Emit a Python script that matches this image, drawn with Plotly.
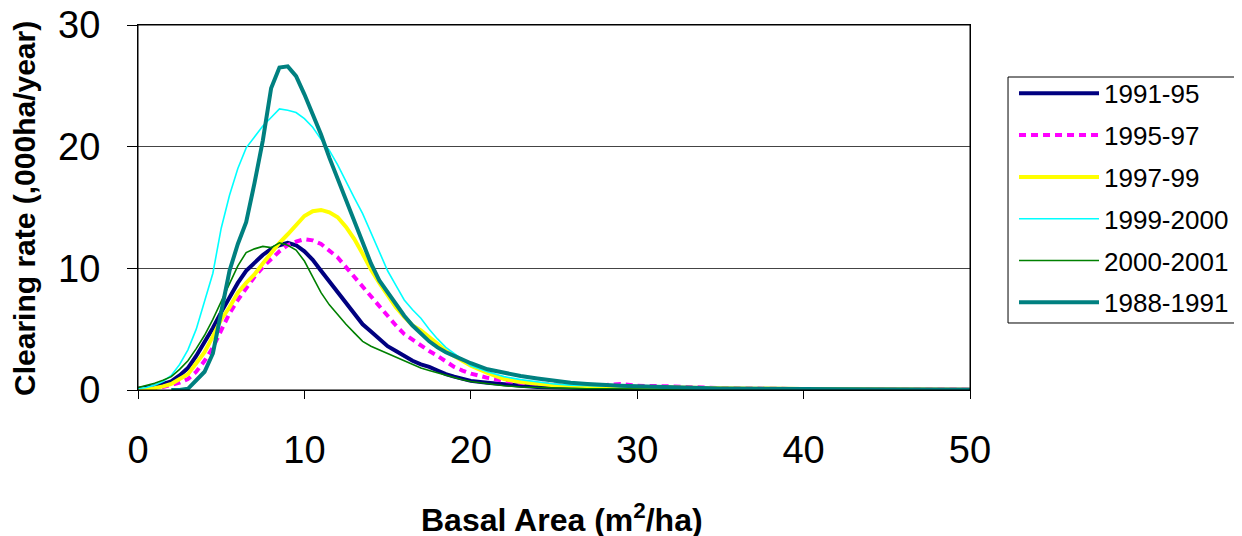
import plotly.graph_objects as go

basal_area = [0, 0.5, 1, 1.5, 2, 2.5, 3, 3.5, 4, 4.5, 5, 5.5, 6, 6.5, 7, 7.5, 8, 8.5, 9, 9.5,
              10, 10.5, 11, 11.5, 12, 12.5, 13, 13.5, 14, 14.5, 15, 15.5, 16, 16.5, 17, 17.5,
              18, 18.5, 19, 19.5, 20, 21, 22, 23, 24, 25, 26, 27, 28, 29, 30, 32, 35, 40, 45, 50]

s1991_95 = [0.1, 0.2, 0.3, 0.5, 0.7, 1.2, 1.8, 2.8, 3.9, 5.1, 6.4, 7.6, 8.8, 9.8, 10.5, 11.1,
            11.6, 11.9, 12.1, 11.9, 11.4, 10.7, 9.8, 8.9, 8.0, 7.2, 6.3, 5.4, 4.8, 4.2, 3.6, 3.2,
            2.8, 2.4, 2.1, 1.9, 1.6, 1.3, 1.1, 0.9, 0.75, 0.6, 0.45, 0.35, 0.25, 0.2, 0.18, 0.16,
            0.15, 0.13, 0.12, 0.1, 0.08, 0.05, 0.03, 0.02]

s1995_97 = [0.0, 0.05, 0.15, 0.25, 0.4, 0.6, 0.9, 1.5, 2.4, 3.5, 4.9, 6.3, 7.4, 8.4, 9.3, 10.1,
            10.8, 11.4, 11.9, 12.2, 12.4, 12.3, 12.0, 11.5, 10.9, 10.1, 9.3, 8.5, 7.6, 6.8, 6.0,
            5.3, 4.6, 4.1, 3.6, 3.2, 2.8, 2.3, 1.9, 1.6, 1.35, 1.0, 0.75, 0.6, 0.5, 0.45, 0.4,
            0.4, 0.4, 0.5, 0.35, 0.3, 0.15, 0.08, 0.05, 0.03]

s1997_99 = [0.0, 0.05, 0.15, 0.3, 0.5, 0.9, 1.3, 2.2, 3.1, 4.4, 5.8, 6.8, 8.0, 8.8, 9.5, 10.4,
            11.3, 12.1, 12.8, 13.6, 14.3, 14.7, 14.8, 14.6, 14.2, 13.4, 12.4, 11.2, 9.9, 8.8, 7.8,
            6.8, 6.0, 5.3, 4.9, 4.4, 3.8, 3.2, 2.8, 2.4, 2.0, 1.4, 0.9, 0.65, 0.5, 0.4, 0.35,
            0.32, 0.3, 0.3, 0.3, 0.25, 0.15, 0.08, 0.05, 0.03]

s1999_2000 = [0.1, 0.2, 0.4, 0.7, 1.2, 2.1, 3.3, 5.0, 7.3, 9.6, 13.3, 16.0, 18.2, 19.9, 20.8,
              21.7, 22.4, 23.1, 23.0, 22.8, 22.3, 21.6, 20.6, 19.7, 18.5, 17.1, 15.8, 14.5, 12.9,
              11.3, 9.8, 8.6, 7.4, 6.6, 5.9, 5.0, 4.2, 3.5, 3.0, 2.5, 2.0, 1.5, 1.1, 0.85, 0.65,
              0.5, 0.4, 0.35, 0.3, 0.28, 0.25, 0.2, 0.12, 0.08, 0.05, 0.03]

s2000_2001 = [0.2, 0.35, 0.55, 0.8, 1.1, 1.7, 2.4, 3.4, 4.5, 5.8, 7.3, 8.8, 10.2, 11.3, 11.6,
              11.8, 11.7, 12.1, 11.9, 11.5, 10.6, 9.3, 8.0, 7.0, 6.2, 5.4, 4.7, 4.0, 3.6, 3.3,
              3.0, 2.7, 2.4, 2.1, 1.8, 1.6, 1.4, 1.2, 1.0, 0.85, 0.7, 0.5, 0.35, 0.25, 0.2, 0.15,
              0.12, 0.1, 0.1, 0.08, 0.08, 0.06, 0.05, 0.04, 0.03, 0.02]

s1988_1991 = [None, None, None, None, 0.0, 0.0, 0.1, 0.8, 1.5, 3.0, 6.5, 9.8, 12.0, 13.8, 17.0,
              20.5, 24.8, 26.5, 26.6, 25.8, 24.3, 22.7, 21.0, 19.1, 17.4, 15.7, 14.0, 12.3, 10.4,
              9.0, 8.0, 7.0, 6.1, 5.3, 4.6, 4.0, 3.5, 3.1, 2.8, 2.5, 2.2, 1.7, 1.4, 1.15, 0.95,
              0.75, 0.6, 0.5, 0.4, 0.35, 0.3, 0.2, 0.12, 0.08, 0.05, 0.03]

series = [
    ("1991-95", s1991_95, "#000080", 4, "solid"),
    ("1995-97", s1995_97, "#FF00FF", 4, "7px,5px"),
    ("1997-99", s1997_99, "#FFFF00", 4, "solid"),
    ("1999-2000", s1999_2000, "#00FFFF", 1.6, "solid"),
    ("2000-2001", s2000_2001, "#008000", 1.6, "solid"),
    ("1988-1991", s1988_1991, "#008080", 4, "solid"),
]

FONT = "Arial, Liberation Sans, sans-serif"

fig = go.Figure()
for name, ys, color, w, dash in series:
    fig.add_trace(go.Scatter(x=basal_area, y=ys, name=name, mode="lines",
                             legendgroup=name,
                             line=dict(color=color, width=w, dash=dash),
                             connectgaps=False))

fig.update_layout(
    width=1242, height=536,
    margin=dict(l=130, r=280, t=17, b=154),
    paper_bgcolor="white", plot_bgcolor="white",
    font=dict(family=FONT, color="black"),
    showlegend=True,
    legend=dict(x=1.0529, y=0.877, xanchor="left", yanchor="top",
                borderwidth=0, bgcolor="rgba(0,0,0,0)",
                font=dict(size=26, family=FONT), tracegroupgap=5,
                itemwidth=80),
    shapes=[
        # plot-area frame
        dict(type="rect", xref="paper", yref="paper", x0=0, x1=1, y0=0, y1=1,
             line=dict(color="black", width=1), fillcolor="rgba(0,0,0,0)", layer="above"),
        # legend frame
        dict(type="rect", xref="paper", yref="paper", x0=1.0457, x1=1.3245,
             y0=0.1836, y1=0.8575, line=dict(color="black", width=1),
             fillcolor="rgba(0,0,0,0)", layer="below"),
    ],
    annotations=[
        dict(text="<b>Basal Area (m<sup>2</sup>/ha)</b>", xref="paper", yref="paper",
             x=0.51, y=-0.351, xanchor="center", yanchor="middle", showarrow=False,
             font=dict(size=32, family=FONT)),
        dict(text="<b>Clearing rate (,000ha/year)</b>", xref="paper", yref="paper",
             x=-0.1358, y=0.496, xanchor="center", yanchor="middle", showarrow=False,
             textangle=-90, font=dict(size=30, family=FONT)),
    ],
)

fig.update_xaxes(range=[0, 50], tickvals=[0, 10, 20, 30, 40, 50],
                 ticks="outside", ticklen=8, tickcolor="black",
                 showline=True, linecolor="black", linewidth=1, mirror=True,
                 showgrid=False, zeroline=False, automargin=False,
                 ticklabeloverflow="allow",
                 tickfont=dict(size=38, family=FONT), ticklabelstandoff=18)

fig.update_yaxes(range=[0, 30], tickvals=[0, 10, 20, 30],
                 ticks="outside", ticklen=10, tickcolor="black",
                 showline=True, linecolor="black", linewidth=1, mirror=True,
                 showgrid=True, gridcolor="#444444", gridwidth=1, zeroline=False,
                 automargin=False, ticklabeloverflow="allow",
                 tickfont=dict(size=38, family=FONT), ticklabelstandoff=19)

fig.write_html("out.html")
